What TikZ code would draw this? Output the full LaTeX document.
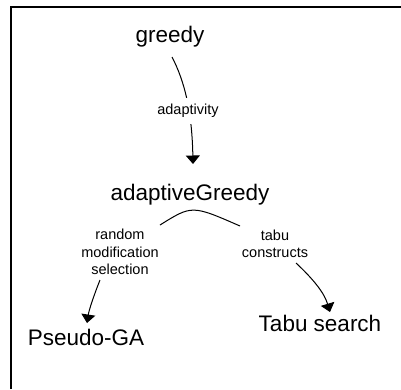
\documentclass[tikz,border=0pt]{standalone}
\usepackage{fontspec}
\setmainfont{Liberation Sans}
\usetikzlibrary{arrows.meta}
\begin{document}
\begin{tikzpicture}[x=1pt,y=-1pt,
  big/.style={font=\fontsize{22.5}{26}\selectfont, inner sep=0pt, anchor=base},
  lbl/.style={font=\fontsize{14.5}{17.5}\selectfont, align=center, inner sep=1pt},
  conn/.style={line width=1pt, -{Triangle[width=14pt,length=8.5pt]}},
  plain/.style={line width=1pt},
]
\useasboundingbox (0,0) rectangle (401,389);
\draw[line width=2pt] (11,389) -- (11,7) -- (401,7);

\node[big] (greedy) at (170,42.7) {greedy};
\node[big] (ag) at (190,200.7) {adaptiveGreedy};
\node[big] (pga) at (86,345) {Pseudo-GA};
\node[big] (ts) at (320,331) {Tabu search};

\coordinate (a1s) at (172,57);
\coordinate (a1e) at (193,164);
\coordinate (arcL) at (160,225);
\coordinate (arcR) at (240,226);
\coordinate (a2s) at (100,280);
\coordinate (a2e) at (87,323);
\coordinate (a3s) at (296,263);
\coordinate (a3e) at (330,312);

\draw[conn] (a1s) .. controls (184,80) and (192,110) .. (a1e);
\node[lbl, fill=white, inner ysep=6pt] (lab1) at (188,111) {adaptivity};

\draw[plain] (arcL) .. controls (192,205) .. (arcR);

\node[lbl] (lab2) at (120,252) {random\\modification\\selection};
\node[lbl] (lab3) at (275,244) {tabu\\constructs};

\draw[conn] (a2s) .. controls (94,295) and (89,310) .. (a2e);
\draw[conn] (a3s) .. controls (312,278) and (324,292) .. (a3e);
\end{tikzpicture}
\end{document}
